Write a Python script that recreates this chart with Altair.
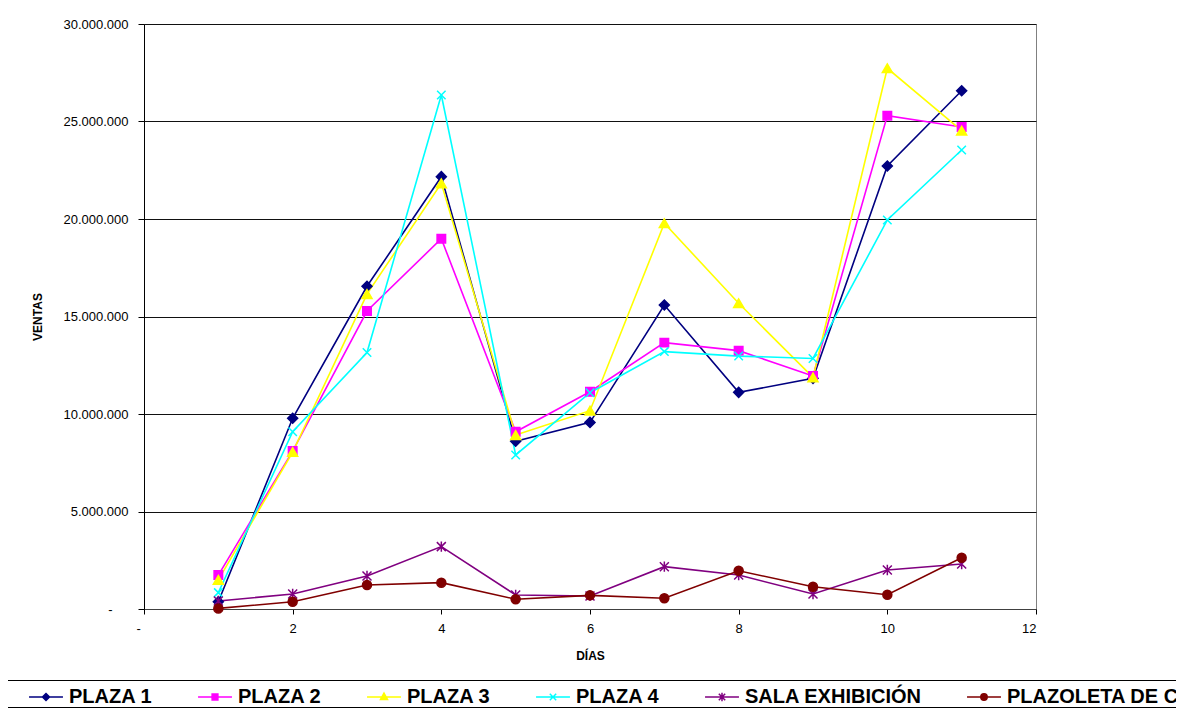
import altair as alt
import pandas as pd

dias = list(range(1, 12))
series = ["PLAZA 1", "PLAZA 2", "PLAZA 3", "PLAZA 4", "SALA EXHIBICIÓN", "PLAZOLETA DE COMIDAS"]
plaza1 = [370000, 9780000, 16550000, 22170000, 8600000, 9570000, 15590000, 11110000, 11830000, 22720000, 26580000]
plaza2 = [1740000, 8100000, 15280000, 18990000, 9090000, 11140000, 13660000, 13250000, 11950000, 25300000, 24720000]
plaza3 = [1490000, 8050000, 16150000, 21830000, 8920000, 10170000, 19780000, 15680000, 11880000, 27730000, 24530000]
plaza4 = [840000, 9090000, 13150000, 26360000, 7900000, 11090000, 13200000, 12970000, 12850000, 19950000, 23540000]
sala = [410000, 770000, 1690000, 3200000, 720000, 670000, 2170000, 1740000, 770000, 2000000, 2310000]
plazoleta = [30000, 370000, 1230000, 1350000, 500000, 700000, 550000, 1960000, 1140000, 730000, 2630000]
colors = ["#000080", "#FF00FF", "#FFFF00", "#00FFFF", "#800080", "#800000"]
x_ticks = [0, 2, 4, 6, 8, 10, 12]
y_ticks = [0, 5000000, 10000000, 15000000, 20000000, 25000000, 30000000]

rows = []
for name, vals in zip(series, [plaza1, plaza2, plaza3, plaza4, sala, plazoleta]):
    for d, v in zip(dias, vals):
        rows.append({"dia": d, "ventas": v, "serie": name})
df = pd.DataFrame(rows)

FONT = "Liberation Sans, Arial"
NB = "\u00a0"

x = alt.X("dia:Q", scale=alt.Scale(domain=[0, 12], nice=False, zero=False),
          axis=alt.Axis(values=x_ticks, grid=False, title="DÍAS",
                        labelExpr="datum.value == 0 ? '-' : datum.value",
                        labelOffset={"condition": {"test": "datum.value == 0", "value": -8}, "value": 0},
                        domainColor="#404040", tickColor="#000000", tickSize=5,
                        labelPadding=8, titlePadding=15))
y = alt.Y("ventas:Q", scale=alt.Scale(domain=[0, 30000000], nice=False),
          axis=alt.Axis(values=y_ticks, grid=True, title="VENTAS",
                        labelExpr="datum.value == 0 ? '-' : replace(format(datum.value, ','), regexp(',', 'g'), '.')",
                        labelPadding={"condition": {"test": "datum.value == 0", "value": 26}, "value": 10},
                        domainColor="#000000", tickColor="#000000", tickSize=6,
                        gridColor="#111111", gridWidth=1, titlePadding=18))

cscale = alt.Scale(domain=series, range=colors)

base = alt.Chart(df)

legend_paths = [
    "M-1.06,0H1.06M0,-0.22L0.22,0L0,0.22L-0.22,0Z",
    "M-1.06,0H1.06M-0.18,-0.18H0.18V0.18H-0.18Z",
    "M-1.06,0H1.06M0,-0.24L0.22,0.16H-0.22Z",
    "M-1.06,0H1.06M-0.2,-0.2L0.2,0.2M-0.2,0.2L0.2,-0.2",
    "M-1.06,0H1.06M-0.2,-0.2L0.2,0.2M-0.2,0.2L0.2,-0.2M0,-0.26V0.26",
    "M-1.06,0H1.06M0.2,0A0.2,0.2 0 1,1 -0.2,0A0.2,0.2 0 1,1 0.2,0Z",
]

leg = alt.Legend(title=NB, titleOrient="left", titleFontSize=10, titlePadding=22,
                 orient="none", legendX=-137, legendY=656, direction="horizontal",
                 columns=6, symbolSize=1024, symbolStrokeWidth=1.5, symbolOpacity=1,
                 labelFont=FONT, labelFontSize=20, labelFontWeight="bold",
                 labelColor="#000000", labelLimit=600, labelOffset=6, columnPadding=42,
                 padding=0, strokeColor="#000000", fillColor="#FFFFFF")
leg_layer = base.mark_point(filled=True, opacity=0).encode(
    x=x, y=y,
    shape=alt.Shape("serie:N", scale=alt.Scale(domain=series, range=legend_paths), legend=leg),
    fill=alt.Fill("serie:N", scale=cscale, legend=leg),
    stroke=alt.Stroke("serie:N", scale=cscale, legend=leg))

lines = base.mark_line(strokeWidth=1.6).encode(
    x=x, y=y, stroke=alt.Stroke("serie:N", scale=cscale))

xpath = "M-1,-1L1,1M-1,1L1,-1"
astpath = "M-1,-1L1,1M-1,1L1,-1M0,-1.15V1.15"
marker_shapes = ["diamond", "square", "triangle-up", xpath, astpath, "circle"]
marker_filled = [True, True, True, False, False, True]
marker_sizes = [100, 72, 100, 72, 81, 81]

layers = [leg_layer, lines]
for name, shp, fil, sz in zip(series, marker_shapes, marker_filled, marker_sizes):
    enc = dict(x=x, y=y, stroke=alt.Stroke("serie:N", scale=cscale))
    if fil:
        enc["fill"] = alt.Fill("serie:N", scale=cscale)
    pts = base.transform_filter(alt.datum.serie == name).mark_point(
        shape=shp, filled=fil, size=sz, strokeWidth=1.5, opacity=1).encode(**enc)
    layers.append(pts)

chart = alt.layer(*layers).properties(
    width=892, height=585,
    autosize=alt.AutoSizeParams(type="none"),
    padding={"left": 136, "top": 16, "right": 140, "bottom": 103},
    background="#FFFFFF",
).configure_view(stroke="#808080", strokeWidth=1).configure_axis(
    labelFont=FONT, labelFontSize=13, labelColor="#000000",
    titleFont=FONT, titleFontSize=12, titleFontWeight="bold", titleColor="#000000",
)

chart.save("out.html", embed_options={"renderer": "svg", "actions": False})
